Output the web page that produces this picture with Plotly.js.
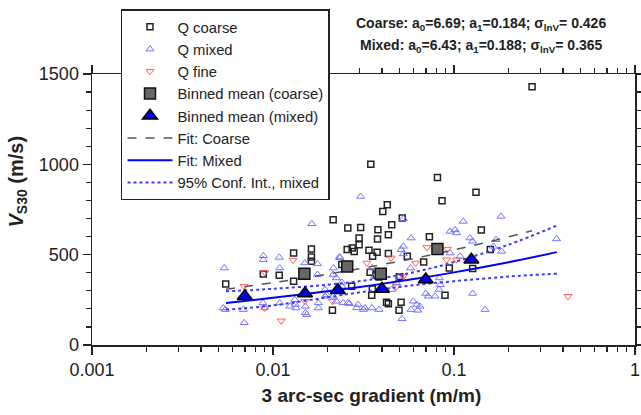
<!DOCTYPE html>
<html><head><meta charset="utf-8">
<script src="https://cdn.plot.ly/plotly-3.0.1.min.js"></script>
<style>html,body{margin:0;padding:0;background:#fff}#chart{width:641px;height:415px}</style>
</head><body><div id="chart"></div>
<script>
// Q coarse (gradient m/m, Vs30 m/s)
const coarseG = [0.0347,0.0428,0.0404,0.0518,0.0215,0.0259,0.0305,0.0380,0.0453,0.0434,0.0299,0.0378,0.0299,0.0274,0.0257,0.0281,0.0339,0.0376,0.0434,0.0355,0.0130,0.0163,0.0163,0.0163,0.0240,0.00884,0.01083,0.0130,0.00548,0.0344,0.0499,0.0272,0.0354,0.0351,0.0424,0.0434,0.0213,0.0497,0.0510,0.0501,0.081,0.1323,0.0859,0.1416,0.0731,0.1587,0.0552,0.0680,0.0942,0.1268,0.0892,0.27,0.0372,0.0385];
const coarseV = [1001,776,739,703,693,647,651,638,666,610,592,587,555,537,528,518,524,513,506,491,509,531,487,463,445,393,386,353,338,402,375,325,310,275,237,229,192,192,237,378,927,846,798,636,599,528,491,460,426,423,275,1430,388,376];
// Q mixed
const mixedG = [0.0305,0.0164,0.00538,0.00884,0.00884,0.01083,0.0109,0.00531,0.00694,0.0088,0.0090,0.0109,0.0133,0.0134,0.01535,0.0150,0.0176,0.0176,0.0178,0.0178,0.0198,0.0215,0.0224,0.0234,0.0244,0.0259,0.0290,0.0316,0.0352,0.0352,0.0365,0.0233,0.0216,0.024,0.024,0.0264,0.0295,0.0151,0.0151,0.0124,0.0194,0.0194,0.0322,0.0385,0.0481,0.0453,0.0497,0.00545,0.00685,0.0132,0.0215,0.0224,0.182,0.1125,0.0525,0.0951,0.1013,0.1034,0.1225,0.1266,0.0579,0.369,0.1706,0.0525,0.051,0.0525,0.183,0.165,0.0951,0.108,0.0575,0.0721,0.0830,0.0840,0.0826,0.0786,0.0721,0.0698,0.1268,0.0596,0.0622,0.0648,0.063,0.0579,0.0516,0.1484];
const mixedV = [822,671,426,494,472,485,426,205,123,233,205,233,224,205,168,454,449,390,233,205,279,390,371,482,233,233,205,196,205,426,380,487,426,347,325,229,224,178,214,214,307,270,205,196,344,307,380,196,196,251,270,242,712,684,699,629,638,620,592,574,592,587,583,546,528,504,518,546,509,491,426,352,371,334,307,270,270,285,285,242,224,214,192,196,145,196];
// Q fine
const fineG = [0.00692,0.0090,0.0090,0.0129,0.0150,0.0111,0.0213,0.0330,0.0449,0.0481,0.0709,0.0918,0.0614,0.091,0.1034,0.0525,0.4266];
const fineV = [325,402,205,470,242,134,242,454,482,322,540,531,454,472,472,380,270];
// Binned means
const binCoarseG = [0.0149,0.0257,0.0394,0.0810];
const binCoarseV = [395,435,395,531];
const binMixedG = [0.00698,0.01503,0.0228,0.040,0.0698,0.1247];
const binMixedV = [270,285,303,310,362,472];
// Fit lines
const fitCoarseG = [0.0055,0.01,0.02,0.04,0.08,0.15,0.27];
const fitCoarseV = [309,345,392,445,505,567,632];
const fitMixedG = [0.0055,0.01,0.02,0.035,0.06,0.1,0.2,0.37];
const fitMixedV = [233,261,297,330,365,402,458,514];
const ciUpperV = [297,311,334,362,403,459,555,661];
const ciLowerV = [196,219,264,301,331,353,379,395];
// Axis ticks
const xTickVals = [0.001,0.01,0.1,1];
const xTickText = ['0.001','0.01','0.1','1'];
const yTickVals = [0,500,1000,1500];

const FONT = "'Liberation Sans', Arial, sans-serif";
const traces = [
  {x:coarseG,y:coarseV,mode:'markers',type:'scatter',name:'Q coarse',legendrank:1,
   marker:{symbol:'square-open',size:6,color:'#222',line:{width:1.5}}},
  {x:mixedG,y:mixedV,mode:'markers',type:'scatter',name:'Q mixed',legendrank:2,
   marker:{symbol:'triangle-up-open',size:7,color:'#7373ff',line:{width:1}}},
  {x:fineG,y:fineV,mode:'markers',type:'scatter',name:'Q fine',legendrank:3,
   marker:{symbol:'triangle-down-open',size:7,color:'#ff5f5f',line:{width:1}}},
  {x:fitCoarseG,y:fitCoarseV,mode:'lines',type:'scatter',name:'Fit: Coarse',legendrank:6,
   line:{color:'#555',width:1.5,dash:'dash',shape:'spline'}},
  {x:fitMixedG,y:fitMixedV,mode:'lines',type:'scatter',name:'Fit: Mixed',legendrank:7,
   line:{color:'#0000ff',width:2,shape:'spline'}},
  {x:fitMixedG,y:ciUpperV,mode:'lines',type:'scatter',name:'95% Conf. Int., mixed',legendrank:8,
   legendgroup:'ci',line:{color:'#3a3aff',width:2,dash:'dot',shape:'spline'}},
  {x:fitMixedG,y:ciLowerV,mode:'lines',type:'scatter',name:'95% Conf. Int., mixed',showlegend:false,
   legendgroup:'ci',line:{color:'#3a3aff',width:2,dash:'dot',shape:'spline'}},
  {x:binCoarseG,y:binCoarseV,mode:'markers',type:'scatter',name:'Binned mean (coarse)',legendrank:4,
   marker:{symbol:'square',size:11,color:'#666',line:{color:'#111',width:1.5}}},
  {x:binMixedG,y:binMixedV,mode:'markers',type:'scatter',name:'Binned mean (mixed)',legendrank:5,
   marker:{symbol:'triangle-up',size:13,color:'#0000ee',line:{color:'#000',width:1.5}}}
];
const axisCommon = {showline:true,linecolor:'#222',linewidth:1.5,mirror:'allticks',ticks:'outside',
  ticklen:8,tickwidth:1.5,tickcolor:'#222',showgrid:false,zeroline:false,
  tickfont:{family:FONT,size:18,color:'#222'}};
const NB = '&nbsp;';
const layout = {
  width:641,height:415,paper_bgcolor:'#fff',plot_bgcolor:'#fff',
  margin:{l:92,r:6,t:74,b:70},
  font:{family:FONT,color:'#222'},
  showlegend:true,
  legend:{x:0.0534,y:1.239,xanchor:'left',yanchor:'top',bgcolor:'#fff',bordercolor:'#222',borderwidth:1.5,
    font:{family:FONT,size:14.8,color:'#222'},itemwidth:45,tracegroupgap:0},
  xaxis:Object.assign({},axisCommon,{type:'log',range:[-3,0],tickmode:'array',tickvals:xTickVals,ticktext:xTickText,
    minor:{ticks:'outside',ticklen:5,tickwidth:1.2,tickcolor:'#222',dtick:'D1',showgrid:false},
    title:{text:'<b>'+NB.repeat(3)+'3 arc-sec gradient (m/m)</b>',font:{family:FONT,size:19,color:'#222'},standoff:9}}),
  yaxis:Object.assign({},axisCommon,{range:[0,1500],tickmode:'array',tickvals:yTickVals,
    minor:{ticks:'outside',ticklen:5,tickwidth:1.2,tickcolor:'#222',dtick:100,showgrid:false},
    title:{text:'<b>'+NB.repeat(10)+'<i>V</i><sub>S30</sub> (m/s)</b>',font:{family:FONT,size:20,color:'#222'},standoff:10}}),
  annotations:[
    {xref:'paper',yref:'paper',x:0.717,y:1.186,showarrow:false,xanchor:'center',yanchor:'middle',
     text:'<b>Coarse: a<sub>0</sub>=6.69; a<sub>1</sub>=0.184; σ<sub>lnV</sub>= 0.426</b>',font:{family:FONT,size:14,color:'#222'}},
    {xref:'paper',yref:'paper',x:0.717,y:1.103,showarrow:false,xanchor:'center',yanchor:'middle',
     text:'<b>Mixed: a<sub>0</sub>=6.43; a<sub>1</sub>=0.188; σ<sub>lnV</sub>= 0.365</b>',font:{family:FONT,size:14,color:'#222'}}
  ]
};
Plotly.newPlot('chart',traces,layout,{displayModeBar:false,staticPlot:true});
</script>
</body></html>
